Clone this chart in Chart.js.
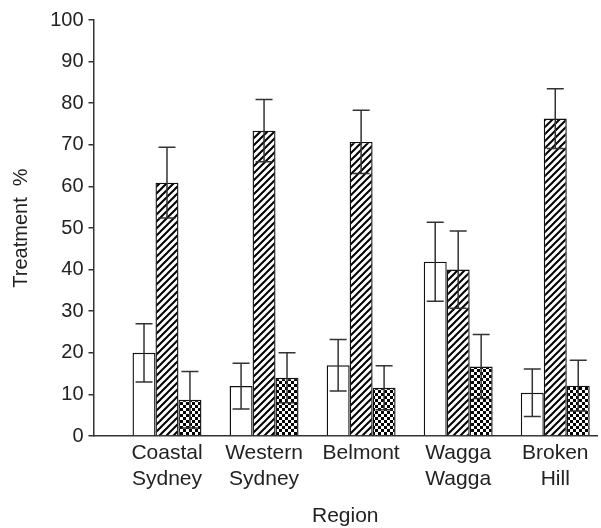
<!DOCTYPE html>
<html>
<head>
<meta charset="utf-8">
<script src="https://cdn.jsdelivr.net/npm/chart.js@4.4.1/dist/chart.umd.min.js"></script>
<style>
  html, body { margin: 0; padding: 0; background: #fff; }
  #wrap { width: 601px; height: 528px; }
</style>
</head>
<body>
<div id="wrap"><canvas id="c" width="601" height="528"></canvas></div>
<script>
// Regions along the x axis (multi-line labels)
const regions = [['Coastal', 'Sydney'], ['Western', 'Sydney'], ['Belmont'], ['Wagga', 'Wagga'], ['Broken', 'Hill']];

// Three treatment groups: mean % and error half-width
const openValues    = [20.0, 12.0, 17.0, 41.9, 10.4];
const openErrors    = [7.0, 5.5, 6.2, 9.5, 5.7];
const hatchedValues = [60.9, 73.4, 70.7, 40.0, 76.3];
const hatchedErrors = [8.5, 7.5, 7.6, 9.3, 7.2];
const checkedValues = [8.7, 14.0, 11.6, 16.7, 12.1];
const checkedErrors = [6.8, 6.0, 5.3, 7.7, 6.1];

const yMin = 0, yMax = 100, yStep = 10;

const FONT = 'Liberation Sans, Arial, Helvetica, sans-serif';
const INK = '#222';

function makeHatch() {
  const s = 7;
  const c = document.createElement('canvas');
  c.width = s; c.height = s;
  const g = c.getContext('2d');
  g.fillStyle = '#fff';
  g.fillRect(0, 0, s, s);
  g.strokeStyle = '#000';
  g.lineWidth = 2;
  g.beginPath();
  g.moveTo(-1, s + 1); g.lineTo(s + 1, -1);
  g.moveTo(-1, 1); g.lineTo(1, -1);
  g.moveTo(s - 1, s + 1); g.lineTo(s + 1, s - 1);
  g.stroke();
  return g.createPattern(c, 'repeat');
}

function makeChecker() {
  const s = 3;
  const c = document.createElement('canvas');
  c.width = s * 2; c.height = s * 2;
  const g = c.getContext('2d');
  g.fillStyle = '#fff';
  g.fillRect(0, 0, s * 2, s * 2);
  g.fillStyle = '#000';
  g.fillRect(0, 0, s, s);
  g.fillRect(s, s, s, s);
  return g.createPattern(c, 'repeat');
}

const toPoints = vals => vals.map((v, i) => ({ x: i, y: v }));

// Draws mean ± error whiskers on top of each bar
const errorBars = {
  id: 'errorBars',
  afterDatasetsDraw(chart) {
    const ctx = chart.ctx;
    const ys = chart.scales.y;
    ctx.save();
    ctx.strokeStyle = '#333';
    ctx.lineWidth = 1.5;
    chart.data.datasets.forEach((ds, di) => {
      const meta = chart.getDatasetMeta(di);
      meta.data.forEach((bar, i) => {
        const v = ds.data[i].y;
        const e = ds.errors[i];
        const top = ys.getPixelForValue(v + e);
        const bot = ys.getPixelForValue(v - e);
        const x = bar.x;
        const cap = 8.5;
        ctx.beginPath();
        ctx.moveTo(x, top); ctx.lineTo(x, bot);
        ctx.moveTo(x - cap, top); ctx.lineTo(x + cap, top);
        ctx.moveTo(x - cap, bot); ctx.lineTo(x + cap, bot);
        ctx.stroke();
      });
    });
    ctx.restore();
  }
};

const barCommon = {
  borderColor: '#111',
  borderWidth: 1.4,
  borderSkipped: 'bottom',
  categoryPercentage: 0.71,
  barPercentage: 1.0
};

new Chart(document.getElementById('c'), {
  type: 'bar',
  data: {
    datasets: [
      Object.assign({ label: 'Open', data: toPoints(openValues), errors: openErrors, backgroundColor: '#fff' }, barCommon),
      Object.assign({ label: 'Hatched', data: toPoints(hatchedValues), errors: hatchedErrors, backgroundColor: makeHatch() }, barCommon),
      Object.assign({ label: 'Checked', data: toPoints(checkedValues), errors: checkedErrors, backgroundColor: makeChecker() }, barCommon)
    ]
  },
  options: {
    responsive: false,
    animation: false,
    devicePixelRatio: 1,
    layout: { padding: { top: 20, right: 4, left: 0, bottom: 0 } },
    plugins: { legend: { display: false }, tooltip: { enabled: false } },
    scales: {
      x: {
        type: 'linear',
        offset: false,
        min: -0.757,
        max: 4.43,
        afterBuildTicks: s => { s.ticks = regions.map((_, i) => ({ value: i })); },
        afterFit: s => { s.height = 92; },
        grid: { display: false, drawTicks: false, offset: false },
        border: { display: true, color: '#333', width: 1.5 },
        ticks: {
          autoSkip: false,
          maxRotation: 0,
          padding: 5,
          color: INK,
          font: { family: FONT, size: 21, lineHeight: 1.2 },
          callback: v => regions[v]
        },
        title: {
          display: true,
          text: 'Region',
          color: INK,
          font: { family: FONT, size: 21, lineHeight: 1.0 },
          padding: { top: 0, bottom: 1 }
        }
      },
      y: {
        min: yMin,
        max: yMax,
        afterFit: s => { s.width = 93.5; },
        grid: { drawOnChartArea: false, drawTicks: true, tickLength: 5, color: '#333', lineWidth: 1.5 },
        border: { display: true, color: '#333', width: 1.5 },
        ticks: {
          stepSize: yStep,
          padding: 5,
          color: INK,
          font: { family: FONT, size: 20 }
        },
        title: {
          display: true,
          text: 'Treatment  %',
          color: INK,
          font: { family: FONT, size: 20, lineHeight: 1.2 },
          padding: { top: 9, bottom: 0 }
        }
      }
    }
  },
  plugins: [errorBars]
});
</script>
</body>
</html>
